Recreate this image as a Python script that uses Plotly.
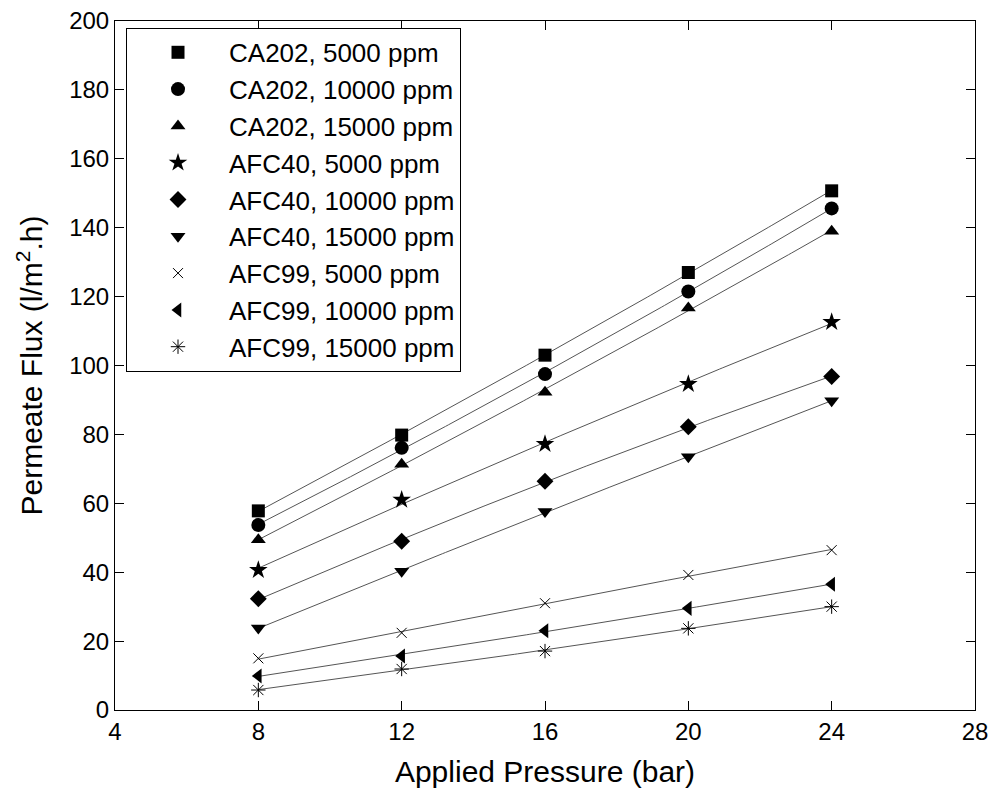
import numpy as np
import plotly.graph_objects as go

pressure = [8, 12, 16, 20, 24]

series_names = [
    "CA202, 5000 ppm", "CA202, 10000 ppm", "CA202, 15000 ppm",
    "AFC40, 5000 ppm", "AFC40, 10000 ppm", "AFC40, 15000 ppm",
    "AFC99, 5000 ppm", "AFC99, 10000 ppm", "AFC99, 15000 ppm",
]

ca202_5000 = [57.8, 79.8, 103.0, 127.0, 150.7]
ca202_10000 = [53.7, 76.1, 97.5, 121.5, 145.6]
ca202_15000 = [49.4, 71.3, 92.2, 116.7, 139.0]
afc40_5000 = [40.6, 61.0, 77.2, 94.6, 112.6]
afc40_10000 = [32.3, 49.0, 66.4, 82.2, 96.8]
afc40_15000 = [23.8, 40.3, 57.6, 73.5, 89.8]
afc99_5000 = [15.0, 22.4, 31.0, 39.2, 46.4]
afc99_10000 = [9.9, 15.7, 23.0, 29.5, 36.5]
afc99_15000 = [5.8, 11.9, 17.1, 23.7, 30.0]

series_values = [ca202_5000, ca202_10000, ca202_15000,
                 afc40_5000, afc40_10000, afc40_15000,
                 afc99_5000, afc99_10000, afc99_15000]

symbols = ["square", "circle", "triangle-up", "star", "diamond",
           "triangle-down", "x-thin-open", "triangle-left", "asterisk-open"]
sizes = [13, 14, 13, 14, 13, 13, 10, 13, 12]

x_ticks = [4, 8, 12, 16, 20, 24, 28]
y_ticks = list(range(0, 201, 20))

FONT = "Liberation Sans, Arial, sans-serif"

fig = go.Figure()

# fitted trend curves (quadratic least-squares fit of each series)
xs = np.linspace(min(pressure), max(pressure), 200)
for vals in series_values:
    coef = np.polyfit(pressure, vals, 2)
    fig.add_trace(go.Scatter(x=xs, y=np.polyval(coef, xs), mode="lines",
                             line=dict(color="#555555", width=1),
                             showlegend=False, hoverinfo="skip"))

for name, vals, sym, sz in zip(series_names, series_values, symbols, sizes):
    open_sym = sym.endswith("open")
    fig.add_trace(go.Scatter(
        x=pressure, y=vals, mode="markers", name=name,
        marker=dict(symbol=sym, size=sz, color="black",
                    line=dict(color="black", width=1 if open_sym else 0)),
    ))

axis_common = dict(
    showline=True, linecolor="black", linewidth=1, mirror="allticks",
    ticks="inside", ticklen=9, tickcolor="black", tickwidth=1,
    showgrid=False, zeroline=False, automargin=False,
    tickfont=dict(family=FONT, size=24, color="black"),
)

fig.update_layout(
    width=998, height=788,
    margin=dict(l=115, r=23, t=21, b=78),
    paper_bgcolor="white", plot_bgcolor="white",
    font=dict(family=FONT, color="black"),
    xaxis=dict(range=[4, 28], tickvals=x_ticks,
               title=dict(text="Applied Pressure (bar)", font=dict(size=30), standoff=18),
               **axis_common),
    yaxis=dict(range=[0, 200], tickvals=y_ticks,
               title=dict(text="Permeate Flux (l/m<sup>2</sup>.h)", font=dict(size=30), standoff=17),
               **axis_common),
    legend=dict(x=0.0128, y=0.99, xanchor="left", yanchor="top",
                bordercolor="black", borderwidth=1, bgcolor="white",
                font=dict(family=FONT, size=26, color="black"),
                itemwidth=92),
)

fig.write_html("out.html")
